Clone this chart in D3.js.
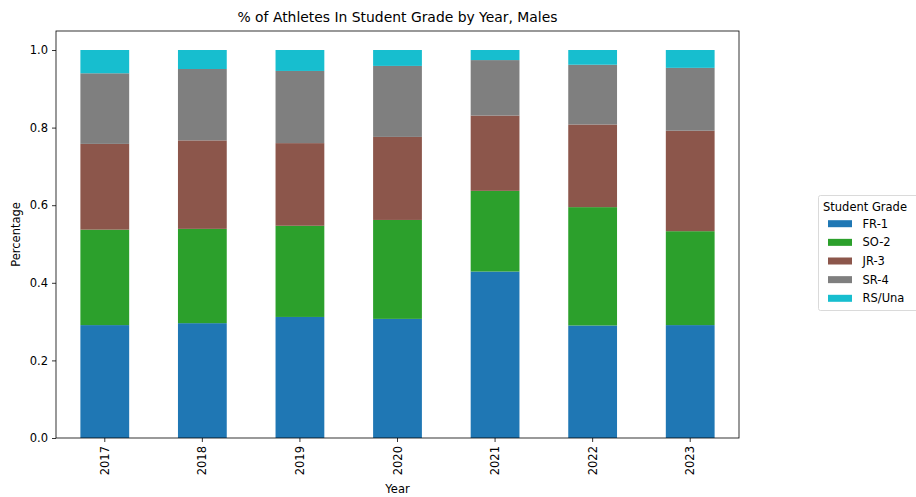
<!DOCTYPE html>
<html><head><meta charset="utf-8">
<script src="https://cdn.jsdelivr.net/npm/d3@7/dist/d3.min.js"></script>
<style>
body{margin:0;background:#fff;}
text{font-family:"DejaVu Sans",sans-serif;fill:#000;}
</style></head>
<body>
<svg id="c" width="916" height="497"></svg>
<script>
const years = ["2017","2018","2019","2020","2021","2022","2023"];
const grades = ["FR-1","SO-2","JR-3","SR-4","RS/Una"];
const FR1 = [0.291,0.296,0.312,0.307,0.429,0.290,0.291];
const SO2 = [0.246,0.243,0.235,0.255,0.208,0.305,0.242];
const JR3 = [0.221,0.228,0.213,0.214,0.194,0.213,0.259];
const SR4 = [0.182,0.184,0.186,0.183,0.143,0.154,0.162];
const RSU = [0.060,0.049,0.054,0.041,0.026,0.038,0.046];
const yTicks = [0,0.2,0.4,0.6,0.8,1.0];
const colors = ["#1f77b4","#2ca02c","#8c564b","#7f7f7f","#17becf"];

const series = [FR1,SO2,JR3,SR4,RSU];
const rows = years.map((y,i)=>{const r={year:y}; grades.forEach((g,k)=>r[g]=series[k][i]); return r;});
const stack = d3.stack().keys(grades)(rows);

const FS = "11.5px";
const svg = d3.select("#c");
const L=56, R=739, T=31, B=438;
const x = d3.scaleBand().domain(years).range([L,R]).paddingInner(0.5).paddingOuter(0.25);
const y = d3.scaleLinear().domain([0,1]).range([B,50]);

const g = svg.append("g");
stack.forEach((s,k)=>{
  g.selectAll(null).data(s).enter().append("rect")
    .attr("x",d=>x(d.data.year)).attr("width",x.bandwidth())
    .attr("y",d=>y(d[1])).attr("height",d=>y(d[0])-y(d[1]))
    .attr("fill",colors[k]);
});

svg.append("rect").attr("x",L).attr("y",T).attr("width",R-L).attr("height",B-T)
  .attr("fill","none").attr("stroke","#000").attr("stroke-width",0.8);

const ya = svg.append("g").attr("transform",`translate(${L},0)`)
  .call(d3.axisLeft(y).tickValues(yTicks).tickFormat(d3.format(".1f")).tickSize(4).tickPadding(4));
ya.select(".domain").remove();
ya.selectAll("line").attr("stroke","#000").attr("stroke-width",0.8);
ya.selectAll("text").attr("font-size",FS).attr("font-family","DejaVu Sans").attr("fill","#000");

const xa = svg.append("g").attr("transform",`translate(0,${B})`)
  .call(d3.axisBottom(x).tickSize(4).tickPadding(4));
xa.select(".domain").remove();
xa.selectAll("line").attr("stroke","#000").attr("stroke-width",0.8);
xa.selectAll("text").attr("font-size",FS).attr("font-family","DejaVu Sans").attr("fill","#000")
  .attr("transform","rotate(-90)").attr("text-anchor","end")
  .attr("x",-8).attr("y",0).attr("dy","0.35em");

svg.append("text").attr("x",(L+R)/2).attr("y",22).attr("text-anchor","middle")
  .attr("font-size","13.9px").text("% of Athletes In Student Grade by Year, Males");
svg.append("text").attr("x",(L+R)/2).attr("y",493).attr("text-anchor","middle")
  .attr("font-size",FS).text("Year");
svg.append("text").attr("transform",`translate(20,${(T+B)/2}) rotate(-90)`).attr("text-anchor","middle")
  .attr("font-size",FS).text("Percentage");

const lg = svg.append("g");
lg.append("rect").attr("x",818.5).attr("y",195.5).attr("width",110).attr("height",115).attr("rx",2)
  .attr("fill","#fff").attr("stroke","#d0d0d0").attr("stroke-width",0.8);
lg.append("text").attr("x",823).attr("y",211).attr("font-size",FS).text("Student Grade");
grades.forEach((gr,k)=>{
  const cy = 223.7 + k*18.65;
  lg.append("rect").attr("x",828).attr("y",cy-3.5).attr("width",24).attr("height",7).attr("fill",colors[k]);
  lg.append("text").attr("x",862.5).attr("y",cy).attr("dy","0.35em").attr("font-size",FS).text(gr);
});
</script>
</body></html>
